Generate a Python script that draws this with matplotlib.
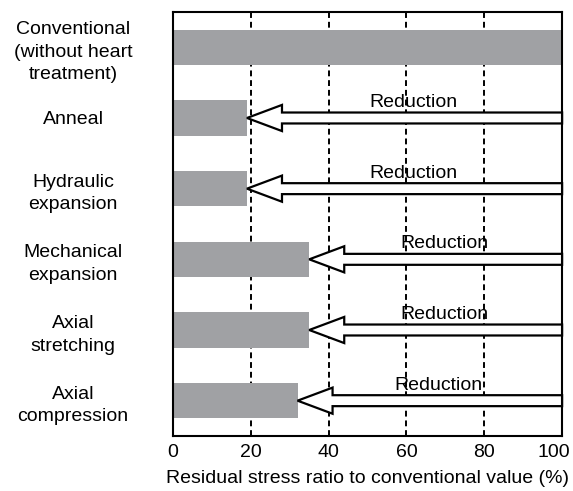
import matplotlib
matplotlib.use("Agg")
import matplotlib.pyplot as plt
from matplotlib.patches import FancyArrow
from matplotlib.transforms import ScaledTranslation

categories = ["Conventional\n(without heart\ntreatment)", "Anneal", "Hydraulic\nexpansion",
              "Mechanical\nexpansion", "Axial\nstretching", "Axial\ncompression"]
values = [100, 19, 19, 35, 35, 32]
xticks = [0, 20, 40, 60, 80, 100]
arrow_label = "Reduction"
xlabel = "Residual stress ratio to conventional value (%)"

plt.rcParams['font.family'] = ['Liberation Sans', 'DejaVu Sans']

fig = plt.figure(figsize=(5.73, 4.91), dpi=100)
ax = fig.add_axes([0.302, 0.112, 0.679, 0.8636])

ypos = list(range(len(categories)))
bar_color = '#a0a1a4'
ax.barh(ypos, values, height=0.5, color=bar_color, zorder=2)

for xv in xticks[1:-1]:
    ax.axvline(xv, color='black', lw=1.4, ls=(0, (3, 2)), zorder=1)

head_len = 9
for y, v in zip(ypos, values):
    if v >= 100:
        continue
    arr = FancyArrow(100, y, -(100 - v), 0, width=0.155, head_width=0.37,
                     head_length=head_len, length_includes_head=True,
                     facecolor='white', edgecolor='black', lw=1.6, zorder=3,
                     clip_on=False)
    ax.add_patch(arr)
    tx = (v + head_len + 100) / 2 - 2.2
    ax.text(tx, y - 0.156, arrow_label, ha='center', va='baseline', fontsize=14, zorder=4)

ax.set_xlim(0, 100)
ax.set_ylim(5.5, -0.5)
ax.set_xticks(xticks)
ax.set_xticklabels([str(t) for t in xticks], fontsize=14)
ax.set_yticks(ypos)
ax.set_yticklabels(categories, fontsize=14, ha='center', linespacing=1.44)
ax.tick_params(axis='y', length=0, pad=72)
ax.tick_params(axis='x', length=0, pad=6)
ax.set_xlabel(xlabel, fontsize=14, labelpad=6)
for s in ax.spines.values():
    s.set_linewidth(1.5)
    s.set_color('black')
    s.set_zorder(5)

last = ax.get_xticklabels()[-1]
last.set_transform(last.get_transform() + ScaledTranslation(-8 / 100, 0, fig.dpi_scale_trans))

fig.savefig("out.png", dpi=100)
